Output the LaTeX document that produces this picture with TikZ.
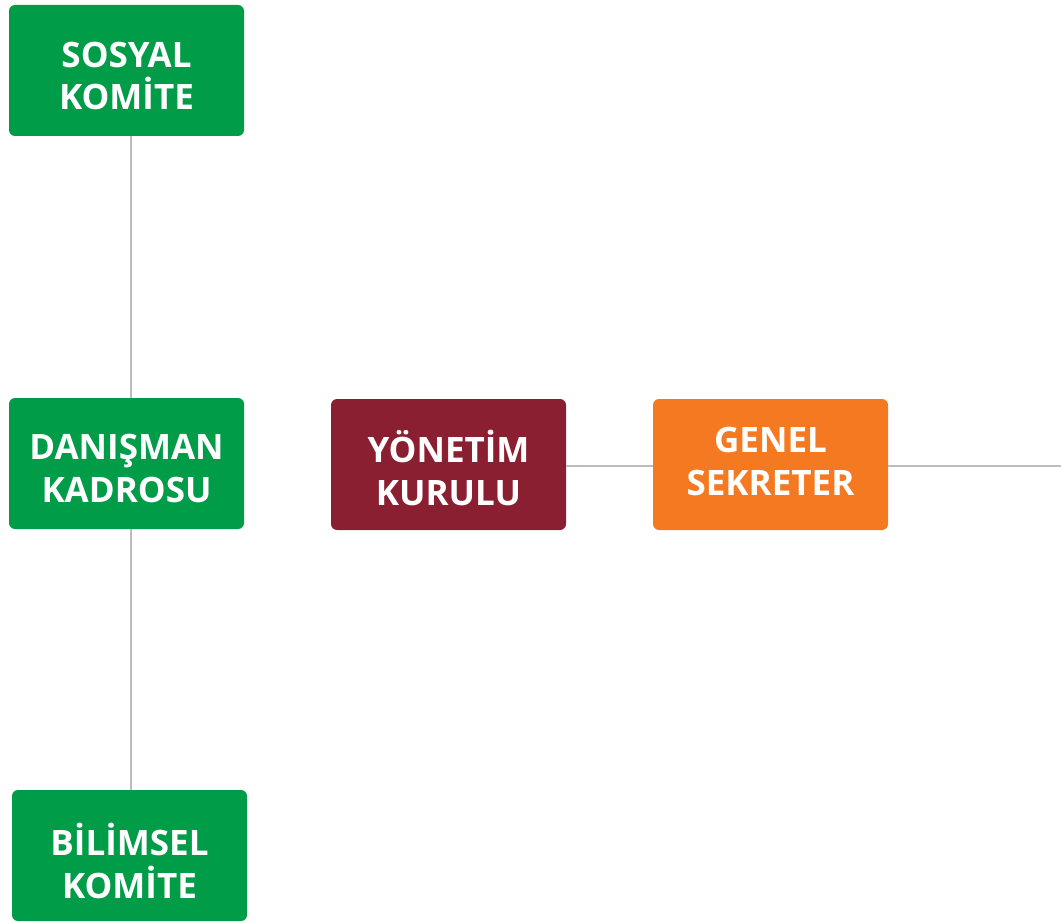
\documentclass[tikz,border=0pt]{standalone}
\usepackage{fontspec}
\setmainfont{Open Sans}
\definecolor{cgreen}{HTML}{009C48}
\definecolor{cmaroon}{HTML}{8B1F32}
\definecolor{corange}{HTML}{F47920}
\definecolor{cline}{HTML}{BDBDBD}
\begin{document}
\begin{tikzpicture}[x=1pt,y=-1pt,
  box/.style={rounded corners=6pt, minimum width=235pt, minimum height=131pt, inner sep=0pt},
  lbl/.style={inner sep=0pt, text=white, align=center, font=\bfseries\fontsize{35}{42.5}\selectfont},
  conn/.style={draw=cline, line width=2pt}]
\useasboundingbox (0,0) rectangle (1061,923);
\node[box, fill=cgreen] (sosyal) at (126.5,70.5) {};
\node[box, fill=cgreen] (danisman) at (126.5,463.5) {};
\node[box, fill=cgreen] (bilimsel) at (129.5,855.5) {};
\node[box, fill=cmaroon] (yonetim) at (448.5,464.5) {};
\node[box, fill=corange] (genel) at (770.5,464.5) {};
\node[lbl] (sosyalt) at ([yshift=-5.5pt]sosyal.center) {SOSYAL\\KOMİTE};
\node[lbl] (danismant) at ([yshift=-5pt]danisman.center) {DANIŞMAN\\KADROSU};
\node[lbl] (bilimselt) at ([yshift=-5.5pt]bilimsel.center) {BİLİMSEL\\KOMİTE};
\node[lbl] (yonetimt) at ([yshift=-3.5pt]yonetim.center) {YÖNETİM\\KURULU};
\node[lbl] (genelt) at ([yshift=3pt]genel.center) {GENEL\\SEKRETER};
\coordinate (rightend) at (1061,466);
\draw[conn] ([xshift=4.5pt]sosyal.south) -- ([xshift=4.5pt]danisman.north);
\draw[conn] ([xshift=4.5pt]danisman.south) -- ([xshift=1.5pt]bilimsel.north);
\draw[conn] ([yshift=-1.5pt]yonetim.east) -- ([yshift=-1.5pt]genel.west);
\draw[conn] ([yshift=-1.5pt]genel.east) -- (rightend);
\end{tikzpicture}
\end{document}
